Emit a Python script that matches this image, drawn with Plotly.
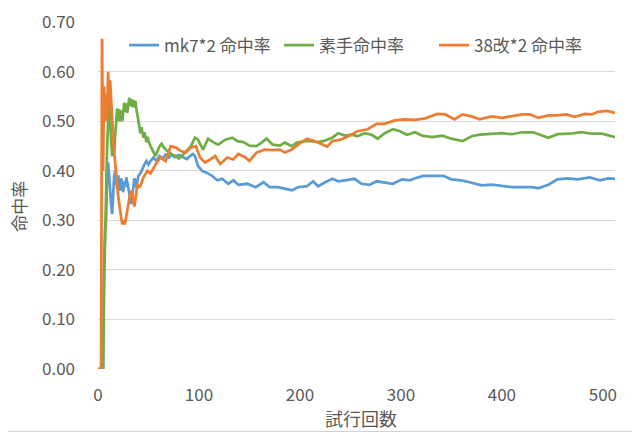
import plotly.graph_objects as go

# cumulative hit rate per trial count
trial_mk7 = [0, 5, 6, 7, 8, 9, 10, 11, 12, 13, 14, 15, 16, 17, 18, 19, 20, 21, 22, 23, 24, 25,
             26, 27, 28, 29, 30, 31, 32, 33, 34, 35, 36, 37, 38, 39, 40, 42, 44, 46, 48, 50, 52,
             55, 58, 61, 64, 67, 70, 73, 76, 80, 84, 88, 91, 94, 96, 99, 103, 108, 113, 118, 123,
             129, 134, 139, 148, 156, 164, 170, 178, 185, 192, 198, 207, 213, 218, 225, 232, 238,
             247, 254, 261, 269, 276, 284, 292, 301, 309, 314, 322, 334, 342, 350, 360, 370, 380,
             390, 400, 410, 420, 430, 436, 446, 455, 465, 475, 487, 497, 505, 512]
rate_mk7 = [0, 0, 0.20, 0.286, 0.30, 0.40, 0.417, 0.385, 0.357, 0.333, 0.313, 0.353, 0.389, 0.40,
            0.381, 0.364, 0.391, 0.375, 0.36, 0.385, 0.37, 0.357, 0.379, 0.367, 0.387, 0.375, 0.364,
            0.353, 0.343, 0.333, 0.351, 0.368, 0.385, 0.375, 0.366, 0.38, 0.39, 0.395, 0.405, 0.413,
            0.42, 0.413, 0.42, 0.427, 0.42, 0.43, 0.425, 0.433, 0.427, 0.433, 0.428, 0.432, 0.428,
            0.424, 0.43, 0.434, 0.43, 0.41, 0.40, 0.396, 0.39, 0.381, 0.384, 0.374, 0.381, 0.372,
            0.374, 0.367, 0.377, 0.367, 0.367, 0.364, 0.361, 0.367, 0.369, 0.379, 0.369, 0.377,
            0.384, 0.379, 0.381, 0.384, 0.374, 0.372, 0.379, 0.377, 0.374, 0.383, 0.381, 0.385,
            0.39, 0.39, 0.39, 0.383, 0.381, 0.376, 0.371, 0.372, 0.369, 0.367, 0.367, 0.367, 0.365,
            0.372, 0.383, 0.385, 0.383, 0.387, 0.381, 0.385, 0.384]

trial_sude = [0, 5, 6, 7, 8, 9, 10, 11, 12, 13, 14, 15, 16, 17, 18, 19, 20, 21, 22, 23, 24, 25,
              26, 27, 28, 29, 30, 31, 32, 33, 34, 35, 36, 37, 38, 39, 40, 41, 42, 43, 44, 45, 46,
              47, 48, 49, 50, 52, 54, 56, 57, 59, 61, 63, 65, 68, 71, 74, 77, 80, 83, 86, 89, 92,
              96, 99, 104, 109, 114, 119, 126, 133, 138, 144, 150, 157, 162, 167, 173, 180, 185,
              192, 197, 205, 210, 218, 223, 232, 238, 245, 251, 257, 264, 271, 277, 284, 292, 299,
              306, 314, 321, 331, 341, 350, 361, 370, 378, 390, 400, 410, 420, 431, 440, 446, 455,
              467, 479, 489, 499, 512]
rate_sude = [0, 0, 0.167, 0.286, 0.375, 0.444, 0.50, 0.545, 0.50, 0.462, 0.429, 0.467, 0.438,
             0.471, 0.50, 0.526, 0.50, 0.524, 0.50, 0.522, 0.50, 0.52, 0.538, 0.519, 0.536, 0.517,
             0.533, 0.548, 0.531, 0.545, 0.529, 0.543, 0.528, 0.541, 0.526, 0.513, 0.50, 0.488,
             0.476, 0.488, 0.477, 0.467, 0.478, 0.468, 0.458, 0.469, 0.46, 0.45, 0.443, 0.435, 0.43,
             0.44, 0.45, 0.455, 0.448, 0.441, 0.437, 0.432, 0.43, 0.425, 0.43, 0.437, 0.445, 0.45,
             0.467, 0.463, 0.443, 0.465, 0.458, 0.453, 0.463, 0.467, 0.46, 0.458, 0.451, 0.45,
             0.457, 0.465, 0.453, 0.451, 0.457, 0.45, 0.457, 0.46, 0.46, 0.458, 0.46, 0.467, 0.476,
             0.471, 0.473, 0.47, 0.476, 0.473, 0.465, 0.476, 0.484, 0.48, 0.473, 0.478, 0.471,
             0.468, 0.471, 0.465, 0.46, 0.47, 0.473, 0.475, 0.476, 0.474, 0.478, 0.478, 0.471,
             0.467, 0.474, 0.475, 0.478, 0.475, 0.475, 0.468]

trial_38 = [0, 3, 4, 5, 6, 7, 8, 9, 10, 11, 12, 13, 14, 15, 16, 17, 18, 19, 20, 21, 22, 23, 24,
            25, 26, 27, 28, 29, 30, 31, 32, 33, 34, 35, 36, 37, 38, 39, 40, 42, 45, 49, 52, 57,
            62, 67, 72, 77, 82, 87, 92, 97, 101, 106, 111, 116, 121, 128, 134, 139, 146, 150, 157,
            165, 173, 180, 185, 192, 198, 207, 215, 223, 227, 232, 240, 248, 257, 267, 276, 284,
            294, 304, 314, 324, 336, 344, 353, 361, 370, 378, 390, 400, 410, 420, 428, 436, 446,
            455, 464, 472, 482, 489, 495, 504, 512]
rate_38 = [0, 0, 0.667, 0.40, 0.571, 0.50, 0.556, 0.50, 0.60, 0.545, 0.583, 0.538, 0.50, 0.467,
           0.438, 0.412, 0.389, 0.368, 0.35, 0.333, 0.318, 0.304, 0.292, 0.30, 0.292, 0.296, 0.31,
           0.321, 0.333, 0.344, 0.355, 0.36, 0.35, 0.338, 0.328, 0.342, 0.36, 0.374, 0.366, 0.37,
           0.387, 0.40, 0.395, 0.413, 0.427, 0.42, 0.45, 0.447, 0.44, 0.437, 0.447, 0.45, 0.427,
           0.417, 0.423, 0.43, 0.414, 0.427, 0.423, 0.434, 0.427, 0.42, 0.437, 0.443, 0.442,
           0.443, 0.437, 0.443, 0.453, 0.465, 0.46, 0.453, 0.449, 0.46, 0.463, 0.47, 0.48, 0.484,
           0.495, 0.495, 0.502, 0.504, 0.503, 0.506, 0.515, 0.514, 0.504, 0.514, 0.51, 0.504,
           0.51, 0.507, 0.51, 0.514, 0.514, 0.507, 0.512, 0.512, 0.514, 0.509, 0.515, 0.514,
           0.519, 0.521, 0.517]

y_ticks = [0.0, 0.1, 0.2, 0.3, 0.4, 0.5, 0.6, 0.7]
x_ticks = [0, 100, 200, 300, 400, 500]

FONT = "Noto Sans CJK JP, Noto Sans, sans-serif"
GREY = "#595959"

fig = go.Figure()
for name, xs, ys, col in [
    ("mk7*2 命中率", trial_mk7, rate_mk7, "#5B9BD5"),
    ("素手命中率", trial_sude, rate_sude, "#70AD47"),
    ("38改*2 命中率", trial_38, rate_38, "#ED7D31"),
]:
    fig.add_trace(go.Scatter(x=xs, y=ys, mode="lines", name=name,
                             line=dict(color=col, width=2.75)))

# the page sits 8px in from the window corner, so the margins are offset for that
fig.update_layout(
    width=640, height=436,
    margin=dict(l=90, r=33, t=14, b=75),
    paper_bgcolor="white", plot_bgcolor="white",
    font=dict(family=FONT, color=GREY, size=17),
    showlegend=True,
    legend=dict(orientation="h", x=0.5, xanchor="center", y=0.932, yanchor="middle",
                itemwidth=30, entrywidth=110, bgcolor="rgba(255,255,255,0)",
                font=dict(size=17, color=GREY)),
    xaxis=dict(range=[0, 512], tickvals=x_ticks, showgrid=False, zeroline=False,
               showline=False, ticks="", tickfont=dict(size=17, color=GREY),
               ticklabelstandoff=14, automargin=False),
    # top slightly past 0.70 so the top gridline is kept
    yaxis=dict(range=[0, 0.7006], tickvals=y_ticks, tickformat=".2f", showgrid=True,
               gridcolor="#D9D9D9", gridwidth=1, zeroline=False, showline=False, ticks="",
               tickfont=dict(size=17, color=GREY), ticklabelstandoff=22, automargin=False,
               ticklabeloverflow="allow"),
    annotations=[
        dict(text="試行回数", xref="paper", yref="paper", x=0.509, y=-0.140,
             xanchor="center", yanchor="middle", showarrow=False,
             font=dict(size=18, color=GREY)),
        dict(text="命中率", xref="paper", yref="paper", x=-0.153, y=0.47, textangle=-90,
             xanchor="center", yanchor="middle", showarrow=False,
             font=dict(size=17, color=GREY)),
    ],
)

# thin spreadsheet border visible at the bottom of the crop
fig.add_shape(type="line", xref="paper", yref="paper", x0=-0.2, x1=1.1, y0=-0.18, y1=-0.18,
              line=dict(color="#D0D0D0", width=1))

fig.write_html("out.html")
